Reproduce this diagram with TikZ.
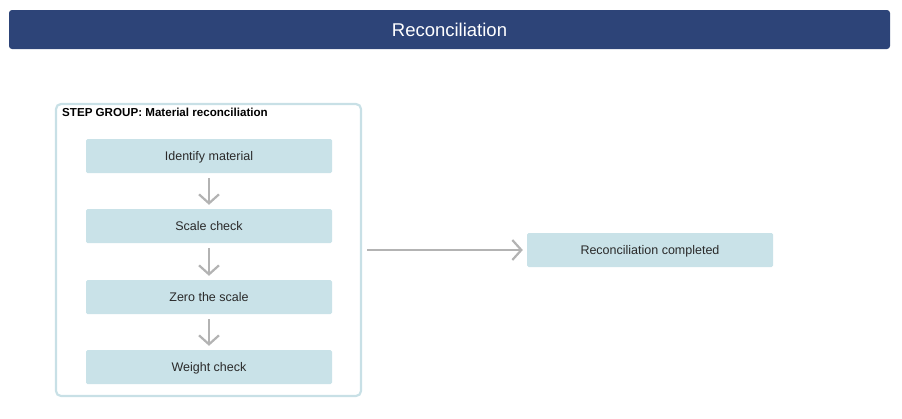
\documentclass[tikz,border=0pt]{standalone}
\usepackage{fontspec}
\setmainfont{Liberation Sans}
\usetikzlibrary{arrows.meta}
\definecolor{titlebg}{HTML}{2D4478}
\definecolor{groupline}{HTML}{C8E0E6}
\definecolor{stepfill}{HTML}{C9E2E8}
\definecolor{arrowgray}{HTML}{B3B3B3}
\definecolor{textdark}{HTML}{2A2A2A}
\tikzset{
  stepbox/.style={fill=stepfill, rounded corners=1.5pt, minimum width=246pt, minimum height=34pt, inner sep=0pt, text height=9pt, text depth=0pt, font=\fontsize{12.5}{14}\selectfont, text=textdark},
  flowarrow/.style={draw=arrowgray, line width=2.2pt, -{Straight Barb[length=9pt,width=20pt,line width=2.2pt]}},
}
\begin{document}
\begin{tikzpicture}[x=1pt,y=-1pt]
\useasboundingbox (0,0) rectangle (902,418);
% title bar
\node[fill=titlebg, rounded corners=3pt, minimum width=881pt, minimum height=39pt, inner sep=0pt, text height=13.3pt, text depth=0pt, text=white, font=\fontsize{18.5}{21}\selectfont] (title) at (449.5,29.5) {Reconciliation};
% group
\draw[groupline, line width=2.2pt, rounded corners=5pt] (56,104) rectangle (361,396);
\node[anchor=base west, inner sep=0pt, font=\bfseries\fontsize{11.6}{13}\selectfont, text=black] (grouplabel) at (62,116.5) {STEP GROUP: Material reconciliation};
% steps
\node[stepbox] (s1) at (209,156) {Identify material};
\node[stepbox] (s2) at (209,226) {Scale check};
\node[stepbox] (s3) at (209,297) {Zero the scale};
\node[stepbox] (s4) at (209,367) {Weight check};
\node[stepbox] (done) at (650,250) {Reconciliation completed};
\coordinate (gout) at (367,250);
% arrows
\draw[flowarrow] ([yshift=-5pt]s1.south) -- ([yshift=4pt]s2.north);
\draw[flowarrow] ([yshift=-5pt]s2.south) -- ([yshift=4pt]s3.north);
\draw[flowarrow] ([yshift=-5pt]s3.south) -- ([yshift=4pt]s4.north);
\draw[flowarrow] (gout) -- ([xshift=-4pt]done.west);
\end{tikzpicture}
\end{document}
